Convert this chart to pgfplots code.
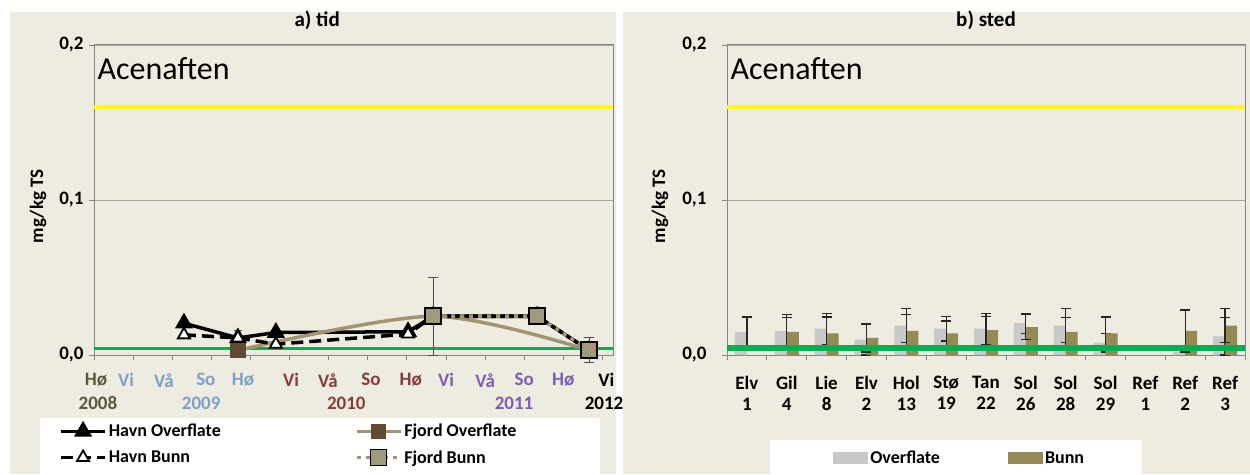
\documentclass[border=0pt]{standalone}
\usepackage{pgfplots}
\pgfplotsset{compat=1.18}
\usepackage{fontspec}
\setmainfont{Carlito}
\definecolor{beige}{HTML}{EEECE1}
\definecolor{gridgray}{HTML}{A6A6A6}
\definecolor{axgray}{HTML}{868686}
\definecolor{limgreen}{HTML}{00B050}
\definecolor{limyellow}{HTML}{FFFF00}
\definecolor{khaki}{HTML}{A39470}
\definecolor{fjordmark}{HTML}{5F4B32}
\definecolor{fjordbunn}{HTML}{A09A7A}
\definecolor{ovgray}{HTML}{C8C8C8}
\definecolor{bunnol}{HTML}{948A54}
\definecolor{cA}{HTML}{595941}
\definecolor{cB}{HTML}{7CA0CB}
\definecolor{cC}{HTML}{8B3A3A}
\definecolor{cD}{HTML}{7E5DB5}
\newcommand{\lbl}{\bfseries\fontsize{19}{21}\selectfont}
\newcommand{\leg}{\bfseries\fontsize{18}{21}\selectfont}
\pgfplotsset{
  panel/.style={
    scale only axis, height=310pt,
    ymin=0, ymax=0.2, ytick={0,0.1,0.2}, yticklabels={{0,0},{0,1},{0,2}},
    ymajorgrids, grid style={draw=gridgray, line width=0.8pt},
    axis line style={draw=axgray, line width=1pt},
    tick style={draw=axgray, line width=0.8pt},
    tick align=outside, xtick pos=bottom, ytick pos=left,
    major tick length=5pt,
    ticklabel style={font=\lbl},
    x tick label style={align=center},
    ylabel={mg/kg TS},
    title style={font=\bfseries\fontsize{21}{24}\selectfont, yshift=6pt},
    clip=false,
    xticklabels={},
  }
}
\begin{document}
\begin{tikzpicture}[x=1pt,y=1pt]
\path[use as bounding box] (0,0) rectangle (1250,474);
\fill[beige] (10,0) rectangle (616,462);
\fill[beige] (623,0) rectangle (1250,462);
\fill[white] (40,0) rectangle (600,56);
\fill[white] (770,0) rectangle (1142,34);

% ---------------- a) tid
\begin{axis}[panel, at={(94pt,119pt)}, anchor=south west, width=519pt,
  xmin=0, xmax=13.27,
  xtick={0,...,13},
  yticklabel style={xshift=-2pt},
  ylabel style={font=\lbl, at={(rel axis cs:0,0.48)}, anchor=center, yshift=56pt},
  extra x tick style={major tick length=0pt, grid=none, x tick label style={yshift=-15pt}},
  extra x ticks={0.05,0.82,1.79,2.86,3.81,5.04,5.98,7.08,8.1,9.0,10.0,11.0,12.0,13.1},
  extra x tick labels={\textcolor{cA}{Hø},\textcolor{cB}{Vi},\textcolor{cB}{Vå},\textcolor{cB}{So},\textcolor{cB}{Hø},
    \textcolor{cC}{Vi},\textcolor{cC}{Vå},\textcolor{cC}{So},\textcolor{cC}{Hø},
    \textcolor{cD}{Vi},\textcolor{cD}{Vå},\textcolor{cD}{So},\textcolor{cD}{Hø},\textcolor{black}{Vi}},
  title={a) tid}, title style={at={(rel axis cs:0.43,1)}},
  legend style={at={(axis description cs:-0.073,-0.21)}, anchor=north west, draw=none, fill=none,
    legend columns=2, font=\leg, legend cell align=left,
    /tikz/every even column/.append style={column sep=132pt}, row sep=8pt},
  legend image code/.code={\draw[mark repeat=2,mark phase=2,#1] plot coordinates {(0pt,0pt) (22pt,0pt) (44pt,0pt)};},
]
\addplot[limyellow, line width=3.5pt, forget plot] coordinates {(0,0.16) (13.27,0.16)};
\addplot[limgreen, line width=3pt, forget plot] coordinates {(0,0.0045) (13.27,0.0045)};

\addplot[black, line width=3.5pt, mark=triangle*, mark size=7pt, mark options={fill=black}]
  coordinates {(2.30,0.0205) (3.68,0.011) (4.65,0.0145) (8.03,0.015) (8.67,0.025) (11.33,0.025) (12.66,0.003)};
\addlegendentry{Havn Overflate}
\addplot[khaki, line width=3.5pt, smooth, mark=square*, mark size=6pt, mark options={fill=fjordmark, draw=fjordmark}]
  coordinates {(3.68,0.003) (8.67,0.025) (12.66,0.003)};
\addlegendentry{Fjord Overflate}
\addplot[black, line width=3.5pt, dash pattern=on 12pt off 6pt, mark=triangle*, mark size=7pt,
  mark options={solid, fill=white, line width=1.8pt},
  error bars/.cd, y dir=both, y explicit,
  error bar style={solid, line width=1pt, draw=black!70},
  error mark options={rotate=90, mark size=4pt, line width=1pt, draw=black!70}]
  coordinates {(2.30,0.013) (3.68,0.011) +- (0,0.005) (4.65,0.007) (8.03,0.0135) (8.67,0.025) (11.33,0.025) (12.66,0.003)};
\addlegendentry{Havn Bunn}
\addplot[khaki, line width=3.5pt, dash pattern=on 4pt off 5pt, mark=square*, mark size=8pt,
  mark options={solid, fill=fjordbunn, draw=black, line width=1.8pt},
  error bars/.cd, y dir=both, y explicit,
  error bar style={solid, line width=1pt, draw=black!70},
  error mark options={rotate=90, mark size=5pt, line width=1pt, draw=black!70}]
  coordinates {(8.67,0.025) +- (0,0.025) (11.33,0.025) (12.66,0.003) +- (0,0.008)};
\addlegendentry{Fjord Bunn}

\node[font=\fontsize{32}{36}\selectfont, anchor=west] at (rel axis cs:0.0,0.925) {Acenaften};
\node[font=\lbl, text=cA] at (axis cs:0.1,0) [yshift=-48pt] {2008};
\node[font=\lbl, text=cB] at (axis cs:2.74,0) [yshift=-48pt] {2009};
\node[font=\lbl, text=cC] at (axis cs:6.45,0) [yshift=-48pt] {2010};
\node[font=\lbl, text=cD] at (axis cs:10.74,0) [yshift=-48pt] {2011};
\node[font=\lbl, text=black] at (axis cs:13.04,0) [yshift=-48pt] {2012};
\end{axis}

% ---------------- b) sted
\begin{axis}[panel, at={(727pt,119pt)}, anchor=south west, width=518pt,
  xmin=-0.5, xmax=12.5,
  xtick={-0.5,0.5,...,12.5},
  yticklabel style={xshift=-12pt},
  ylabel style={font=\lbl, at={(rel axis cs:0,0.48)}, anchor=center, yshift=67pt},
  extra x tick style={major tick length=0pt, grid=none, x tick label style={yshift=-18pt}},
  extra x ticks={0,...,12},
  extra x tick labels={{Elv\\1},{Gil\\4},{Lie\\8},{Elv\\2},{Hol\\13},{Stø\\19},{Tan\\22},{Sol\\26},{Sol\\28},{Sol\\29},{Ref\\1},{Ref\\2},{Ref\\3}},
  title={b) sted},
  legend style={at={(axis description cs:0.199,-0.332)}, anchor=west, draw=none, fill=none,
    legend columns=2, font=\leg, legend cell align=left,
    /tikz/every even column/.append style={column sep=66pt}},
  legend image code/.code={\fill[#1] (0pt,-6pt) rectangle (35pt,6pt);},
]
\addplot[limyellow, line width=3.5pt, forget plot] coordinates {(-0.5,0.16) (12.5,0.16)};
\addplot[ybar, bar width=12pt, bar shift=-6pt, fill=ovgray, draw=none,
  error bars/.cd, y dir=both, y explicit,
  error bar style={line width=1.2pt, draw=black!85},
  error mark options={rotate=90, mark size=5pt, line width=1.2pt, draw=black!85}]
  coordinates {(0,0.015) +- (0,0.0095) (1,0.0155) +- (0,0.0105) (2,0.017) +- (0,0.010) (3,0.010) +- (0,0.010)
   (4,0.019) +- (0,0.011) (5,0.017) +- (0,0.008) (6,0.017) +- (0,0.010) (7,0.0205) +- (0,0.0065)
   (8,0.019) +- (0,0.011) (9,0.008) +- (0,0.006) (11,0.002) +- (0,0) (12,0.012) +- (0,0.012)};
\addlegendentry{Overflate}
\addplot[ybar, bar width=12pt, bar shift=6pt, fill=bunnol, draw=none,
  error bars/.cd, y dir=both, y explicit,
  error bar style={line width=1.2pt, draw=black!85},
  error mark options={rotate=90, mark size=5pt, line width=1.2pt, draw=black!85}]
  coordinates {(1,0.015) +- (0,0.009) (2,0.014) +- (0,0.0105) (3,0.011) +- (0,0.009)
   (4,0.0155) +- (0,0.0105) (5,0.014) +- (0,0.008) (6,0.016) +- (0,0.009) (7,0.018) +- (0,0.008)
   (8,0.015) +- (0,0.009) (9,0.014) +- (0,0.0105) (11,0.0155) +- (0,0.0135) (12,0.019) +- (0,0.011)};
\addlegendentry{Bunn}
\addplot[limgreen, line width=6.5pt, forget plot] coordinates {(-0.5,0.0045) (12.5,0.0045)};
\node[font=\fontsize{32}{36}\selectfont, anchor=west] at (rel axis cs:0.0,0.925) {Acenaften};
\end{axis}
\end{tikzpicture}
\end{document}
